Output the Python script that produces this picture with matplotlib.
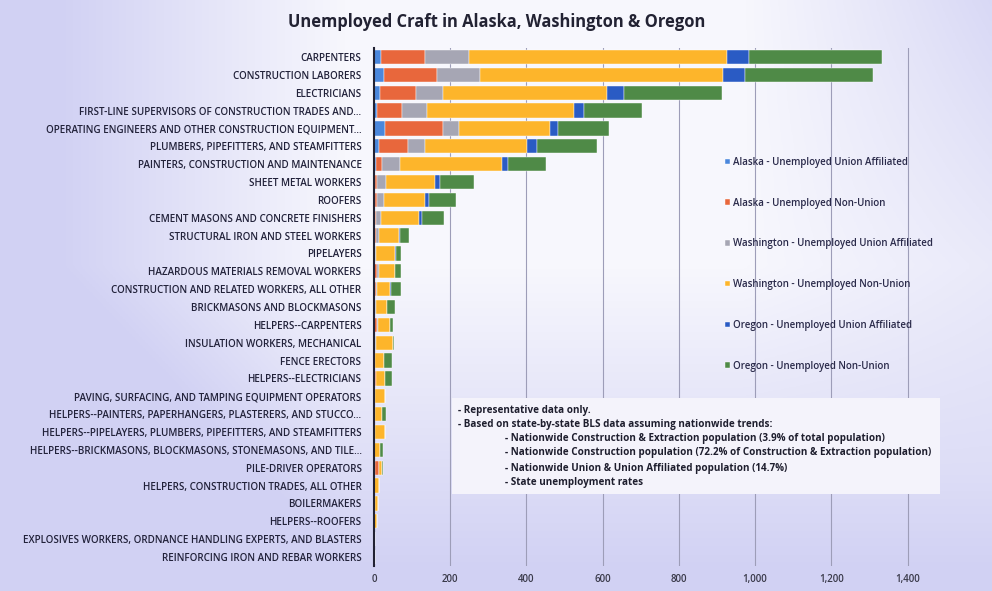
import numpy as np
import matplotlib
matplotlib.use("Agg")
import matplotlib.pyplot as plt
from matplotlib.patches import Rectangle

categories = [
    "CARPENTERS",
    "CONSTRUCTION LABORERS",
    "ELECTRICIANS",
    "FIRST-LINE SUPERVISORS OF CONSTRUCTION TRADES AND...",
    "OPERATING ENGINEERS AND OTHER CONSTRUCTION EQUIPMENT...",
    "PLUMBERS, PIPEFITTERS, AND STEAMFITTERS",
    "PAINTERS, CONSTRUCTION AND MAINTENANCE",
    "SHEET METAL WORKERS",
    "ROOFERS",
    "CEMENT MASONS AND CONCRETE FINISHERS",
    "STRUCTURAL IRON AND STEEL WORKERS",
    "PIPELAYERS",
    "HAZARDOUS MATERIALS REMOVAL WORKERS",
    "CONSTRUCTION AND RELATED WORKERS, ALL OTHER",
    "BRICKMASONS AND BLOCKMASONS",
    "HELPERS--CARPENTERS",
    "INSULATION WORKERS, MECHANICAL",
    "FENCE ERECTORS",
    "HELPERS--ELECTRICIANS",
    "PAVING, SURFACING, AND TAMPING EQUIPMENT OPERATORS",
    "HELPERS--PAINTERS, PAPERHANGERS, PLASTERERS, AND STUCCO...",
    "HELPERS--PIPELAYERS, PLUMBERS, PIPEFITTERS, AND STEAMFITTERS",
    "HELPERS--BRICKMASONS, BLOCKMASONS, STONEMASONS, AND TILE...",
    "PILE-DRIVER OPERATORS",
    "HELPERS, CONSTRUCTION TRADES, ALL OTHER",
    "BOILERMAKERS",
    "HELPERS--ROOFERS",
    "EXPLOSIVES WORKERS, ORDNANCE HANDLING EXPERTS, AND BLASTERS",
    "REINFORCING IRON AND REBAR WORKERS",
]

alaska_union = [18, 26, 16, 8, 29, 13, 5, 3, 2, 2, 1, 1, 1, 1, 1, 1, 1, 1, 1, 0, 0, 0, 0, 2, 0, 0, 0, 0, 0]
alaska_nonunion = [115, 139, 94, 66, 152, 76, 16, 5, 5, 3, 3, 2, 8, 3, 2, 7, 2, 1, 4, 1, 1, 1, 1, 12, 1, 2, 1, 1, 1]
washington_union = [115, 113, 71, 66, 42, 45, 47, 24, 18, 13, 10, 3, 3, 3, 3, 2, 2, 1, 1, 2, 1, 1, 0, 0, 0, 0, 0, 0, 0]
washington_nonunion = [677, 638, 430, 386, 239, 268, 268, 129, 110, 100, 52, 50, 42, 35, 28, 32, 45, 22, 22, 25, 18, 26, 14, 8, 12, 8, 6, 2, 1]
oregon_union = [58, 58, 45, 26, 21, 26, 16, 13, 10, 8, 2, 1, 1, 2, 1, 1, 0, 1, 0, 0, 0, 0, 0, 0, 0, 0, 0, 0, 0]
oregon_nonunion = [349, 336, 257, 152, 134, 157, 100, 89, 71, 58, 24, 15, 16, 28, 20, 8, 2, 20, 18, 2, 12, 2, 8, 1, 0, 1, 0, 0, 0]

series_names = [
    "Alaska - Unemployed Union Affiliated",
    "Alaska - Unemployed Non-Union",
    "Washington - Unemployed Union Affiliated",
    "Washington - Unemployed Non-Union",
    "Oregon - Unemployed Union Affiliated",
    "Oregon - Unemployed Non-Union",
]
x_ticks = [0, 200, 400, 600, 800, 1000, 1200, 1400]
x_tick_labels = ["0", "200", "400", "600", "800", "1,000", "1,200", "1,400"]

notes = [
    "- Representative data only.",
    "- Based on state-by-state BLS data assuming nationwide trends:",
    "- Nationwide Construction & Extraction population (3.9% of total population)",
    "- Nationwide Construction population (72.2% of Construction & Extraction population)",
    "- Nationwide Union & Union Affiliated population (14.7%)",
    "- State unemployment rates",
]

colors = ["#4a87dc", "#e8673c", "#a6a6b4", "#fdb52b", "#2a5bc4", "#4f8a47"]
series = [alaska_union, alaska_nonunion, washington_union, washington_nonunion, oregon_union, oregon_nonunion]

FONT = ["Open Sans", "DejaVu Sans"]
plt.rcParams["font.family"] = FONT

W, H = 992, 591
fig = plt.figure(figsize=(W / 100, H / 100), dpi=100)

# scanned-paper style background: lavender tint toward left/bottom/right
bg = fig.add_axes([0, 0, 1, 1], zorder=-10)
yy, xx = np.mgrid[0:1:200j, 0:1:300j]
w = np.clip(0.9 * np.maximum((0.35 - xx) / 0.35, 0) + 0.8 * np.clip((yy - 0.45) / 0.55, 0, 1)
            + 0.6 * np.clip((xx - 0.75) / 0.25, 0, 1) * np.clip((0.8 - yy) / 0.8, 0, 1), 0, 1)
w = np.clip(w + 0.15, 0, 0.9)
white = np.array([1.0, 1.0, 1.0])
lav = np.array([0.80, 0.80, 0.95])
img = white[None, None, :] * (1 - w[..., None]) + lav[None, None, :] * w[..., None]
bg.imshow(img, aspect="auto", extent=[0, 1, 0, 1], origin="upper")
bg.axis("off")

ax = fig.add_axes([374 / W, 1 - 566 / H, (938 - 374) / W, (566 - 48) / H])
ax.patch.set_alpha(0)

y = np.arange(len(categories))
left = np.zeros(len(categories))
handles = []
for vals, c, name in zip(series, colors, series_names):
    vals = np.array(vals, dtype=float)
    h = ax.barh(y, vals, left=left, height=0.8, color=c, edgecolor="white", linewidth=0.3, label=name, zorder=3)
    handles.append(h)
    left += vals

ax.set_ylim(len(categories) - 0.5, -0.5)
ax.set_xlim(0, 1480)
ax.set_yticks(y)
ax.set_yticklabels(categories, fontsize=7.15, color="#22223a", fontweight="semibold")
ax.tick_params(axis="y", length=0, pad=9)
ax.set_xticks(x_ticks)
ax.set_xticklabels(x_tick_labels, fontsize=7, color="#3a3a4a", fontweight="semibold")
ax.tick_params(axis="x", length=0, pad=6)
ax.grid(axis="x", color="#9d9db8", linewidth=0.8, zorder=0)
for s in ["top", "right", "bottom"]:
    ax.spines[s].set_visible(False)
ax.spines["left"].set_color("#222233")
ax.spines["left"].set_linewidth(1.5)
ax.spines["left"].set_zorder(5)

leg = ax.legend(handles=handles, loc="upper left",
                bbox_to_anchor=((720 - 374) / (938 - 374), 1 - (152 - 48) / (566 - 48)),
                frameon=False, prop={"size": 7.0, "weight": "semibold"}, labelspacing=3.06,
                handlelength=0.5, handleheight=0.5, handletextpad=0.3, borderpad=0, labelcolor="#2a2a4a")

fig.text(497 / W, 1 - 22 / H, "Unemployed Craft in Alaska, Washington & Oregon", ha="center", va="center",
         fontsize=11.9, fontweight="bold", color="#222233")

# notes box
fig.patches.append(Rectangle((452 / W, 1 - 494 / H), (940 - 452) / W, (494 - 398) / H, transform=fig.transFigure,
                             facecolor="#f4f3fb", edgecolor="none", zorder=1))
line_y = [410, 424, 438, 453, 468, 483]
indent = [458, 458, 505, 505, 505, 505]
for t, ly, lx in zip(notes, line_y, indent):
    fig.text(lx / W, 1 - ly / H, t, ha="left", va="center", fontsize=7.1, fontweight="bold", color="#1e1e2e", zorder=2)

fig.savefig("out.png", dpi=100)
